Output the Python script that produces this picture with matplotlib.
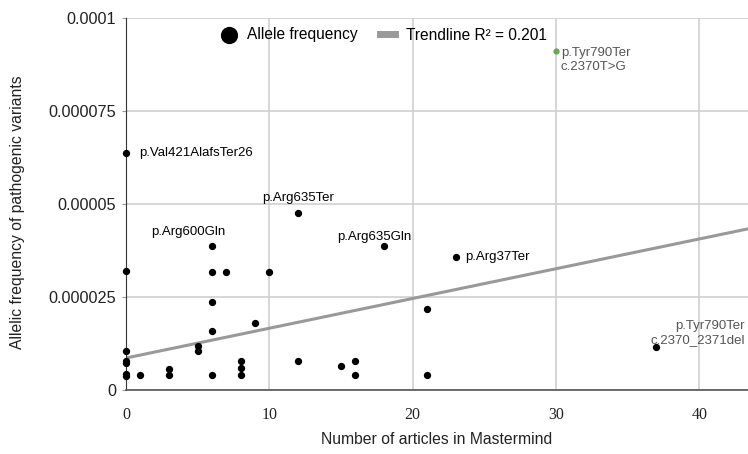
import numpy as np
import matplotlib.pyplot as plt

# number of articles in Mastermind vs allele frequency
articles = [0, 0, 0, 0, 0, 0, 0,
            1, 3, 3, 5, 5,
            6, 6, 6, 6, 6, 7,
            8, 8, 8, 9, 10,
            12, 12, 15, 16, 16,
            18, 21, 21, 23, 37]
freq = [0.0000637, 0.000032, 0.0000105, 0.0000078, 0.0000072, 0.0000043, 0.0000038,
        0.000004, 0.0000057, 0.000004, 0.0000118, 0.0000106,
        0.0000388, 0.0000317, 0.0000237, 0.0000158, 0.000004, 0.0000317,
        0.0000079, 0.0000059, 0.000004, 0.000018, 0.0000317,
        0.0000477, 0.0000078, 0.0000064, 0.0000079, 0.000004,
        0.0000388, 0.0000218, 0.000004, 0.0000358, 0.0000116]

# highlighted variant (green)
hl_x, hl_y = 30, 0.0000911

# trendline as shown on the chart
trend_intercept = 0.0000086
trend_slope = 0.0000008
r2 = 0.201

labels = [
    # text, x, y, dx(px), dy(px), ha
    ("p.Val421AlafsTer26", 0, 0.0000637, 13, 0, "left"),
    ("p.Arg635Ter", 12, 0.0000477, 0, 15, "center"),
    ("p.Arg600Gln", 6, 0.0000388, -24, 14, "center"),
    ("p.Arg635Gln", 18, 0.0000388, -10, 9, "center"),
    ("p.Arg37Ter", 23, 0.0000358, 9.5, 0, "left"),
]

xmax = 43.4
ymax = 0.0001
px = 0.72  # pixels -> points

plt.rcParams['font.family'] = ['Liberation Sans', 'DejaVu Sans']

fig = plt.figure(figsize=(7.48, 4.54), dpi=100)
ax = fig.add_axes([126/748, 64/454, 622/748, 372/454])

ax.set_xlim(0, xmax)
ax.set_ylim(0, ymax)

ax.set_xticks([0, 10, 20, 30, 40])
ax.set_yticks([0, 0.000025, 0.00005, 0.000075, 0.0001])
ax.set_yticklabels(["0", "0.000025", "0.00005", "0.000075", "0.0001"], fontsize=11.7, color="#222222")
ax.set_xticklabels(["0", "10", "20", "30", "40"], fontsize=11.5, family="Liberation Serif", color="#222222")
ax.grid(True, color="#d0d0d0", linewidth=1.2)
ax.set_axisbelow(True)

for s in ["top", "right"]:
    ax.spines[s].set_visible(False)
ax.spines["left"].set_color("#333333")
ax.spines["bottom"].set_color("#555555")
ax.spines["bottom"].set_linewidth(1.2)
ax.tick_params(axis="y", length=3, color="#999999", pad=4)
ax.tick_params(axis="x", length=0, pad=12)

xs = np.array([0, xmax])
ax.plot(xs, trend_intercept + trend_slope * xs, color="#999999", linewidth=2.2, zorder=2)

ax.scatter(articles, freq, s=18, color="black", zorder=3, clip_on=False)
ax.scatter([hl_x], [hl_y], s=12, color="#6aa84f", zorder=3)

for text, x, y, dx, dy, ha in labels:
    ax.annotate(text, (x, y), xytext=(dx * px, dy * px), textcoords="offset points",
                ha=ha, va="center", fontsize=9.5, color="black")

ax.annotate("p.Tyr790Ter\nc.2370T>G", (hl_x, hl_y), xytext=(5 * px, -8.8 * px), textcoords="offset points",
            ha="left", va="center", fontsize=9.5, color="#555555", linespacing=1.15)
ax.annotate("p.Tyr790Ter\nc.2370_2371del", (1, 0.0000153), xycoords=("axes fraction", "data"),
            xytext=(-3 * px, 0), textcoords="offset points", ha="right", va="center",
            fontsize=9.5, color="#555555", multialignment="right", linespacing=1.15)

# legend
ax.scatter([], [], s=130, color="black", label="Allele frequency")
ax.plot([], [], color="#999999", linewidth=5, label="Trendline R\u00b2 = %.3f" % r2)
ax.legend(loc="center", bbox_to_anchor=(0.415, 1 - 17/372), ncol=2,
          frameon=False, fontsize=11.2, handlelength=0.95, columnspacing=1.4, handletextpad=0.7,
          borderaxespad=0)

ax.set_xlabel("Number of articles in Mastermind", fontsize=11.3, color="#222222", labelpad=7)
ax.set_ylabel("Allelic frequency of pathogenic variants", fontsize=11.3, color="#222222")
ax.yaxis.set_label_coords(-0.162, 0.478)

fig.savefig("out.png", dpi=100)
